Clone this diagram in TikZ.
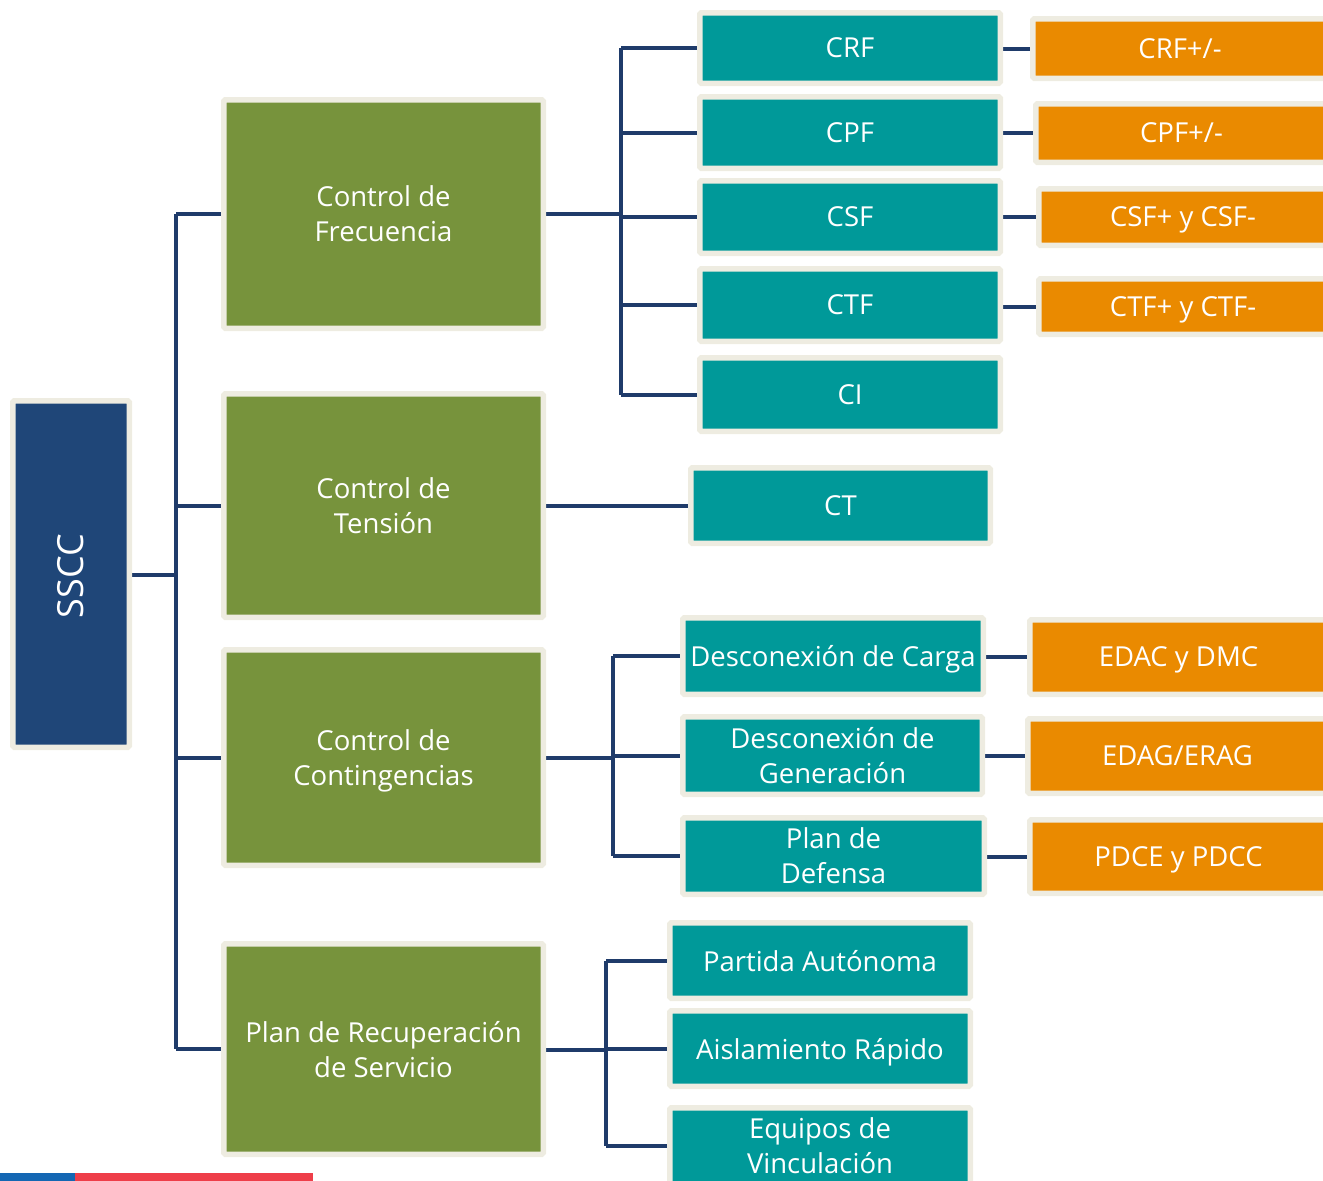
\documentclass[tikz,border=0pt]{standalone}
\usepackage{fontspec}
\setmainfont{Open Sans}
\usetikzlibrary{backgrounds}
\definecolor{bordc}{HTML}{EEECE1}
\definecolor{navy}{HTML}{1F4678}
\definecolor{grn}{HTML}{77933C}
\definecolor{teal1}{HTML}{009999}
\definecolor{orng}{HTML}{EA8A00}
\definecolor{lnc}{HTML}{1F3B6A}
\definecolor{stblue}{HTML}{1467B3}
\definecolor{stred}{HTML}{EE3E49}
\tikzset{
  bx/.style={draw=bordc, line width=5.5pt, rounded corners=1.5pt, text=white,
    align=center, inner sep=0pt, text depth=0pt, font=\fontsize{27.5}{35}\selectfont},
  gbox/.style={bx, fill=grn},
  tbox/.style={bx, fill=teal1},
  obox/.style={bx, fill=orng},
  conn/.style={draw=lnc, line width=4pt},
  wh/.style 2 args={minimum width=#1pt-5.5pt, minimum height=#2pt-5.5pt},
}
\begin{document}
\begin{tikzpicture}[x=1pt,y=-1pt]
\useasboundingbox (0,0) rectangle (1323,1181);
\clip (0,0) rectangle (1323,1181);
% root
\node[bx, fill=navy, wh={122}{352}] (sscc) at (71,574) {};
\node[text=white, font=\fontsize{36}{40}\selectfont, rotate=90] (ssccl) at (71,576) {SSCC};
% level 1
\node[gbox, wh={325}{234}] (f) at (383.5,214) {Control de\\Frecuencia};
\node[gbox, wh={325}{229}] (t) at (383.5,505.5) {Control de\\Tensión};
\node[gbox, wh={325}{221}] (c) at (383.5,757.5) {Control de\\Contingencias};
\node[gbox, wh={325}{216}] (p) at (383.5,1049) {Plan de Recuperación\\de Servicio};
% level 2
\node[tbox, wh={306}{76}] (crf) at (850,48) {CRF};
\node[tbox, wh={306}{77}] (cpf) at (850,132.5) {CPF};
\node[tbox, wh={306}{78}] (csf) at (850,217) {CSF};
\node[tbox, wh={306}{78}] (ctf) at (850,305) {CTF};
\node[tbox, wh={306}{79}] (ci) at (850,394.5) {CI};
\node[tbox, wh={305}{81}] (ct) at (840.5,505.5) {CT};
\node[tbox, wh={306}{82}] (dc) at (833,656) {Desconexión de Carga};
\node[tbox, wh={305}{83}] (dg) at (832.5,755.5) {Desconexión de\\Generación};
\node[tbox, wh={307}{82}] (pd) at (833.5,856) {Plan de\\Defensa};
\node[tbox, wh={306}{81}] (pa) at (820,960.5) {Partida Autónoma};
\node[tbox, wh={306}{81}] (ar) at (820,1048.5) {Aislamiento Rápido};
\node[tbox, wh={306}{82}] (ev) at (820,1146) {Equipos de\\Vinculación};
% level 3
\node[obox, wh={300}{65}] (crfp) at (1180,48.5) {CRF+/-};
\node[obox, wh={297}{64}] (cpfp) at (1181.5,133) {CPF+/-};
\node[obox, wh={294}{62}] (csfp) at (1183,217) {CSF+ y CSF-};
\node[obox, wh={294}{61}] (ctfp) at (1183,306.5) {CTF+ y CTF-};
\node[obox, wh={303}{80}] (edac) at (1178.5,657) {EDAC y DMC};
\node[obox, wh={305}{80}] (edag) at (1177.5,756) {EDAG/ERAG};
\node[obox, wh={303}{79}] (pdce) at (1178.5,856.5) {PDCE y PDCC};
% junctions
\coordinate (j0) at (176,575);
\coordinate (j1) at (621,214);
\coordinate (j3) at (613,758);
\coordinate (j4) at (606,1050);
\begin{pgfonlayer}{background}
\draw[conn] (sscc.east |- j0) -- (j0);
\draw[conn] (j0 |- f.west) -- (j0 |- p.west);
\foreach \n in {f,t,c,p} \draw[conn] (j0 |- \n.west) -- (\n.west);
\draw[conn] (f.east |- j1) -- (j1);
\draw[conn] (j1 |- crf.west) -- (j1 |- ci.west);
\foreach \n in {crf,cpf,csf,ctf,ci} \draw[conn] (j1 |- \n.west) -- (\n.west);
\draw[conn] (t.east) -- (ct.west);
\draw[conn] (c.east |- j3) -- (j3);
\draw[conn] (j3 |- dc.west) -- (j3 |- pd.west);
\foreach \n in {dc,dg,pd} \draw[conn] (j3 |- \n.west) -- (\n.west);
\draw[conn] (p.east |- j4) -- (j4);
\draw[conn] (j4 |- pa.west) -- (j4 |- ev.west);
\foreach \n in {pa,ar,ev} \draw[conn] (j4 |- \n.west) -- (\n.west);
\foreach \a/\b in {crf/crfp,cpf/cpfp,csf/csfp,ctf/ctfp,dc/edac,dg/edag,pd/pdce}
  \draw[conn] (\a.east |- \b.west) -- (\b.west);
\end{pgfonlayer}
% bottom stripe
\fill[stblue] (0,1173) rectangle (75,1181);
\fill[stred] (75,1173) rectangle (313,1181);
\end{tikzpicture}
\end{document}
